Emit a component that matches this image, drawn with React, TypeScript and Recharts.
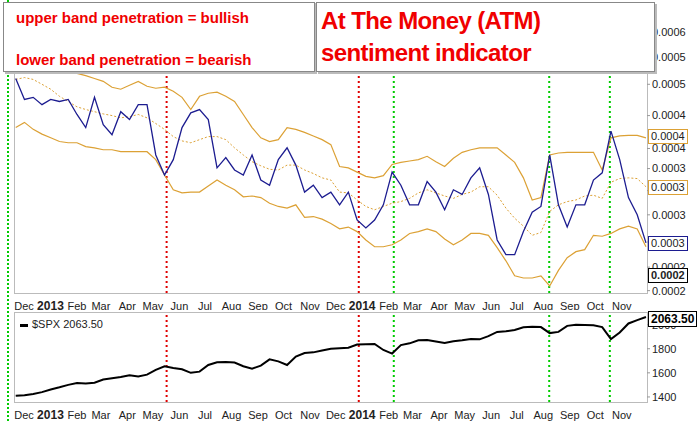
import React from 'react';
import { LineChart, Line, XAxis, YAxis, ReferenceLine } from 'recharts';

// sample days counted from Dec 1 2012 (about every 10 days)
const days = Array.from({ length: 73 }, (_, i) => -9.7 + i * 10.25);

// ATM sentiment values (x 1e-4)
const atm = [4.92, 4.5, 4.54, 4.4, 4.5, 4.46, 4.5, 4.22, 3.99, 4.54, 4.04, 3.87, 4.27, 4.13, 4.4, 4.4, 3.55, 3.26, 3.48, 3.99,
  4.25, 4.31, 4.13, 3.36, 3.51, 3.33, 3.26, 3.55, 3.19, 3.12, 3.48, 3.66, 3.4, 3.03, 3.12, 2.96, 3.03, 2.87, 3.03, 2.69,
  2.6, 2.69, 2.87, 3.3, 3.12, 2.87, 2.87, 3.17, 3.03, 2.81, 3.06, 3.0, 3.22, 3.36, 3.0, 2.47, 2.32, 2.32, 2.56, 2.78,
  2.85, 3.55, 2.87, 2.61, 2.87, 2.87, 3.19, 3.29, 3.93, 3.48, 2.96, 2.75, 2.44];
const upper = [5.46, 5.38, 5.34, 5.29, 5.23, 5.16, 5.07, 5.03, 4.98, 4.92, 4.86, 4.74, 4.7, 4.78, 4.86, 4.76, 4.72, 4.74, 4.66, 4.54,
  4.31, 4.56, 4.62, 4.64, 4.56, 4.46, 4.22, 3.99, 3.82, 3.76, 3.79, 3.99, 3.96, 3.91, 3.85, 3.79, 3.71, 3.38, 3.36, 3.3,
  3.24, 3.22, 3.25, 3.41, 3.44, 3.46, 3.48, 3.53, 3.45, 3.38, 3.5, 3.59, 3.63, 3.66, 3.66, 3.66, 3.55, 3.44, 3.22, 2.93,
  2.96, 3.55, 3.58, 3.59, 3.59, 3.59, 3.59, 3.33, 3.82, 3.85, 3.86, 3.86, 3.82];
const middle = [4.9, 4.94, 4.9, 4.8, 4.7, 4.56, 4.46, 4.36, 4.31, 4.27, 4.23, 4.2, 4.16, 4.18, 4.22, 4.16, 4.06, 3.96, 3.84, 3.77,
  3.74, 3.79, 3.84, 3.84, 3.79, 3.66, 3.55, 3.45, 3.39, 3.34, 3.33, 3.4, 3.4, 3.33, 3.28, 3.22, 3.19, 3.03, 3.02, 2.93,
  2.85, 2.81, 2.85, 2.89, 2.91, 2.95, 3.02, 3.06, 3.02, 2.98, 2.95, 3.0, 3.03, 3.1, 3.1, 2.99, 2.83, 2.71, 2.62, 2.52,
  2.55, 2.79, 2.87, 2.91, 2.93, 2.98, 2.99, 2.95, 3.16, 3.21, 3.22, 3.21, 3.1];
const lower = [3.99, 4.08, 3.96, 3.88, 3.82, 3.76, 3.74, 3.74, 3.68, 3.66, 3.63, 3.63, 3.6, 3.6, 3.6, 3.6, 3.48, 3.26, 3.06, 3.02,
  3.03, 3.03, 3.11, 3.19, 3.12, 3.06, 2.97, 2.98, 2.96, 2.89, 2.85, 2.83, 2.87, 2.72, 2.73, 2.7, 2.65, 2.59, 2.61, 2.56,
  2.47, 2.4, 2.4, 2.42, 2.47, 2.54, 2.56, 2.59, 2.56, 2.48, 2.42, 2.47, 2.54, 2.54, 2.52, 2.39, 2.26, 2.12, 2.1, 2.1,
  2.12, 2.03, 2.17, 2.29, 2.35, 2.37, 2.52, 2.51, 2.54, 2.59, 2.62, 2.59, 2.4];
const spx = [1409, 1415, 1425, 1440, 1462, 1480, 1500, 1515, 1512, 1518, 1545, 1556, 1565, 1580, 1570, 1585, 1625, 1655, 1640, 1630,
  1600, 1610, 1665, 1688, 1690, 1685, 1655, 1635, 1660, 1712, 1695, 1665, 1735, 1765, 1770, 1785, 1800, 1805, 1808, 1835,
  1838, 1840, 1790, 1760, 1830, 1845, 1870, 1872, 1860, 1848, 1862, 1870, 1880, 1878, 1905, 1940, 1945, 1955, 1978, 1982,
  1980, 1930, 1940, 1990, 2000, 1998, 1995, 1980, 1880, 1935, 2010, 2038, 2063.5];

// month starts (days from Dec 1 2012) and their labels
const monthDays = [0, 31, 62, 90, 121, 151, 182, 212, 243, 274, 304, 335, 365, 396, 427, 455, 486, 516, 547, 577, 608, 639, 669, 700];
const monthLabels = ['Dec', '2013', 'Feb', 'Mar', 'Apr', 'May', 'Jun', 'Jul', 'Aug', 'Sep', 'Oct', 'Nov', 'Dec', '2014',
  'Feb', 'Mar', 'Apr', 'May', 'Jun', 'Jul', 'Aug', 'Sep', 'Oct', 'Nov'];
const atmTicks = [6.0, 5.7, 5.4, 5.1, 4.8, 4.5, 4.2, 3.9, 3.65, 3.35, 3.05, 2.75, 2.45, 2.2, 1.99];
const spxTicks = [1400, 1600, 1800, 2000];
const redDays = [167, 392];
const greenDays = [433, 615, 686];

const data = days.map((d, i) => ({ d, atm: atm[i], upper: upper[i], middle: middle[i], lower: lower[i], spx: spx[i] }));

const GOLD = '#dca135';
const FONT = 'Liberation Sans, Arial, sans-serif';
const X_DOMAIN = [-11.7, 729.5];

const MonthTick = (props: any) => {
  const { x, y, payload } = props;
  const label = monthLabels[monthDays.indexOf(payload.value)];
  const year = label === '2013' || label === '2014';
  return (
    <text x={x} y={y + 9} textAnchor="middle" fontSize={year ? 12 : 11} fontWeight={year ? 'bold' : 'normal'}
      fill="#222" fontFamily={FONT}>{label}</text>
  );
};

const vLines = [
  ...redDays.map((d) => <ReferenceLine key={'r' + d} x={d} stroke="#e00000" strokeWidth={2} strokeDasharray="2 3" />),
  ...greenDays.map((d) => <ReferenceLine key={'g' + d} x={d} stroke="#00cc00" strokeWidth={2} strokeDasharray="2 3" />),
];

const boxStyle: React.CSSProperties = {
  position: 'absolute', background: '#fff', border: '1px solid #888', boxShadow: '2px 2px 0 #bbb',
  fontFamily: FONT, fontWeight: 'bold', color: '#f00000', whiteSpace: 'nowrap',
};

const tag = (top: number, text: string, color: string, bold = false): React.CSSProperties => ({
  position: 'absolute', left: 648, top, fontFamily: FONT, fontSize: 11, fontWeight: bold ? 'bold' : 'normal',
  border: '1px solid ' + color, background: '#fff', padding: '0 2px', lineHeight: '13px', color: '#222',
});

export default function App() {
  return (
    <div style={{ position: 'absolute', left: 0, top: 0, width: 700, height: 421, background: '#fff', overflow: 'hidden' }}>
      <div style={{ position: 'absolute', left: 7, top: 0, height: 421, borderLeft: '2px dotted #00cc00' }} />
      <div style={{ position: 'absolute', left: 14, top: 3, width: 634, height: 291, border: '1px solid #bbb', boxSizing: 'border-box' }} />
      <div style={{ position: 'absolute', left: 14, top: 312, width: 634, height: 91, border: '1px solid #bbb', boxSizing: 'border-box' }} />
      <div style={{ position: 'absolute', left: 0, top: 0 }}>
        <LineChart width={700} height={310} data={data} margin={{ top: 3, right: 0, left: 14, bottom: 0 }}>
          <XAxis dataKey="d" type="number" domain={X_DOMAIN} ticks={monthDays} tick={<MonthTick />} tickLine={false}
            axisLine={false} height={17} interval={0} allowDataOverflow />
          <YAxis orientation="right" scale="log" domain={[1.97, 6.79]} ticks={atmTicks} width={53} axisLine={false}
            tickLine={{ stroke: '#999' }} tickSize={3} allowDataOverflow
            tickFormatter={(v: number) => (v / 10000).toFixed(4)}
            tick={{ fontSize: 11, fill: '#222', fontFamily: FONT, textAnchor: 'start' }} />
          {vLines}
          <Line dataKey="upper" stroke={GOLD} strokeWidth={1.2} dot={false} isAnimationActive={false} />
          <Line dataKey="lower" stroke={GOLD} strokeWidth={1.2} dot={false} isAnimationActive={false} />
          <Line dataKey="middle" stroke={GOLD} strokeWidth={1} strokeDasharray="2 2" dot={false} isAnimationActive={false} />
          <Line dataKey="atm" stroke="#1c1c90" strokeWidth={1.3} dot={false} isAnimationActive={false} />
        </LineChart>
      </div>
      <div style={{ position: 'absolute', left: 0, top: 310 }}>
        <LineChart width={700} height={111} data={data} margin={{ top: 2, right: 0, left: 14, bottom: 0 }}>
          <XAxis dataKey="d" type="number" domain={X_DOMAIN} ticks={monthDays} tick={<MonthTick />} tickLine={false}
            axisLine={false} height={19} interval={0} allowDataOverflow />
          <YAxis orientation="right" domain={[1358, 2105]} ticks={spxTicks} width={53} axisLine={false}
            tickLine={{ stroke: '#999' }} tickSize={3}
            tick={{ fontSize: 11, fill: '#222', fontFamily: FONT, textAnchor: 'start' }} />
          {vLines}
          <Line dataKey="spx" stroke="#000" strokeWidth={2} dot={false} isAnimationActive={false} />
        </LineChart>
      </div>
      <div style={tag(129, '0.0004', GOLD)}>0.0004</div>
      <div style={tag(180, '0.0003', GOLD)}>0.0003</div>
      <div style={tag(236, '0.0003', '#1c1c90')}>0.0003</div>
      <div style={tag(268, '0.0002', '#000', true)}>0.0002</div>
      <div style={{ position: 'absolute', left: 20, top: 318, fontFamily: FONT, fontSize: 11, color: '#222' }}>
        <span style={{ display: 'inline-block', width: 8, height: 3, background: '#000', verticalAlign: 'middle', marginRight: 4 }} />
        $SPX 2063.50
      </div>
      <div style={{ position: 'absolute', left: 648, top: 311, fontFamily: FONT, fontSize: 12, fontWeight: 'bold',
        border: '1px solid #000', padding: '0 2px', background: '#fff', lineHeight: '14px' }}>2063.50</div>
      <div style={{ ...boxStyle, left: 3, top: 2, width: 310, height: 68, fontSize: 15 }}>
        <div style={{ position: 'absolute', left: 12, top: 6 }}>upper band penetration = bullish</div>
        <div style={{ position: 'absolute', left: 12, top: 48 }}>lower band penetration = bearish</div>
      </div>
      <div style={{ ...boxStyle, left: 316, top: 2, width: 337, height: 68, fontSize: 24, lineHeight: '30px', letterSpacing: -0.6 }}>
        <div style={{ position: 'absolute', left: 4, top: 3 }}>At The Money (ATM)</div>
        <div style={{ position: 'absolute', left: 4, top: 35 }}>sentiment indicator</div>
      </div>
    </div>
  );
}
